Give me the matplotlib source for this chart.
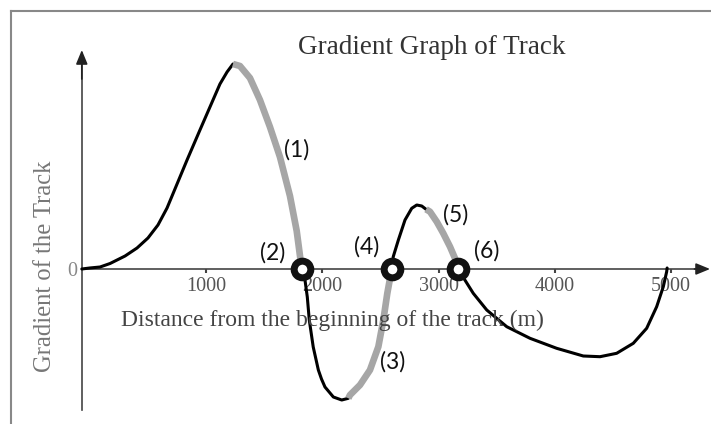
import matplotlib
matplotlib.use("Agg")
import matplotlib.pyplot as plt
from matplotlib.lines import Line2D

plt.rcParams['font.family'] = ['Liberation Serif', 'DejaVu Serif']

# ---- data (distance in m, gradient in arbitrary units) ----
x_rise = [-68, 0, 89, 175, 304, 407, 501, 587, 665, 751, 837, 948, 1034, 1120, 1181, 1232]
g_rise = [0, 0.1, 0.2, 0.55, 1.3, 2.1, 3.1, 4.4, 6.1, 8.5, 10.9, 13.9, 16.2, 18.5, 19.7, 20.5]

x_seg1 = [1232, 1292, 1378, 1464, 1550, 1636, 1722, 1780, 1823]
g_seg1 = [20.5, 20.3, 19.1, 16.9, 14.2, 11.2, 7.3, 3.8, 0]

x_dip = [1823, 1851, 1871, 1888, 1922, 1966, 1993, 2023, 2095, 2167, 2224]
g_dip = [0, -1.1, -2.8, -5.1, -7.8, -10.1, -11.0, -11.8, -12.8, -13.1, -12.93]

x_seg3 = [2224, 2238, 2324, 2410, 2482, 2525, 2559, 2597]
g_seg3 = [-12.93, -12.6, -11.6, -10.1, -7.77, -5.1, -2.43, 0]

x_hump = [2597, 2610, 2654, 2711, 2769, 2812, 2855, 2892]
g_hump = [0, 1.23, 2.9, 4.9, 6.07, 6.4, 6.3, 5.97]

x_seg5 = [2892, 2926, 2984, 3040, 3098, 3141, 3167]
g_seg5 = [5.97, 5.73, 4.73, 3.57, 2.23, 1.07, 0]

x_tail = [3167, 3199, 3298, 3414, 3586, 3786, 4015, 4244, 4388, 4531, 4674, 4789, 4875, 4932, 4961, 4965]
g_tail = [0, -0.6, -2.43, -4.1, -5.77, -6.93, -7.93, -8.7, -8.77, -8.43, -7.43, -5.93, -3.77, -1.77, -0.27, 0.1]

circle_x = [1823, 2597, 3167]
circle_y = [0, 0, 0]

label_texts = ['(1)', '(2)', '(3)', '(4)', '(5)', '(6)']
label_x = [1775, 1576, 2608, 2384, 3150, 3416]
label_y = [11.9, 1.6, -9.3, 2.2, 5.4, 1.8]

xticks = [1000, 2000, 3000, 4000, 5000]
xtick_labels = ['1000', '2000', '3000', '4000', '5000']

# ---- figure ----
fig = plt.figure(figsize=(7.11, 4.24), dpi=100)
fig.patch.set_facecolor('white')
ax = fig.add_axes([0, 0, 1, 1])
ax.set_xlim(-771.3, 5342.2)
ax.set_ylim(-15.5, 26.9)
ax.patch.set_alpha(0)

axis_col = '#444444'
y_axis_x = -68
ax.spines['top'].set_visible(False)
ax.spines['right'].set_visible(False)
ax.spines['bottom'].set_position(('data', 0))
ax.spines['bottom'].set_bounds(y_axis_x, 5300)
ax.spines['bottom'].set_color(axis_col)
ax.spines['bottom'].set_linewidth(1.2)
ax.spines['left'].set_position(('data', y_axis_x))
ax.spines['left'].set_bounds(-14.1, 21.0)
ax.spines['left'].set_color(axis_col)
ax.spines['left'].set_linewidth(1.2)

arrow_kw = dict(arrowstyle='-|>,head_length=0.85,head_width=0.35', color='#222222',
                lw=1.2, shrinkA=0, shrinkB=0, mutation_scale=10)
ax.annotate('', xy=(5334, 0), xytext=(5200, 0), arrowprops=arrow_kw)
ax.annotate('', xy=(y_axis_x, 21.9), xytext=(y_axis_x, 19.0), arrowprops=arrow_kw)

ax.set_xticks(xticks)
ax.set_xticklabels(xtick_labels)
ax.tick_params(axis='x', direction='out', length=3, width=1.5, color=axis_col,
               pad=3, labelsize=14.5, labelcolor='#555555')
ax.set_yticks([0])
ax.set_yticklabels(['0'])
ax.tick_params(axis='y', length=0, pad=3.4, labelsize=14.5, labelcolor='#888888')

# curve
gray = '#a6a6a6'
black_kw = dict(color='black', lw=2.2, solid_capstyle='round', solid_joinstyle='round', zorder=3)
gray_kw = dict(color=gray, lw=4.8, solid_capstyle='butt', solid_joinstyle='round', zorder=3)
ax.plot(x_rise, g_rise, **black_kw)
ax.plot(x_seg1, g_seg1, **gray_kw)
ax.plot(x_dip, g_dip, **black_kw)
ax.plot(x_seg3, g_seg3, **gray_kw)
ax.plot(x_hump, g_hump, **black_kw)
ax.plot(x_seg5, g_seg5, **gray_kw)
ax.plot(x_tail, g_tail, **black_kw)

ax.plot(circle_x, circle_y, 'o', ms=12, mew=5, mec='#111111', mfc='white', zorder=5, ls='none')

for t, x, y in zip(label_texts, label_x, label_y):
    ax.text(x, y, t, ha='center', va='center', fontsize=16.5, family=['Lato', 'DejaVu Sans'],
            color='#111111', zorder=6)

# texts
fig.text(432 / 711, 1 - 48 / 424, 'Gradient Graph of Track', ha='center', va='center',
         fontsize=19.5, color='#333333')
fig.text(332 / 711, 1 - 320 / 424, 'Distance from the beginning of the track (m)', ha='center',
         va='center', fontsize=17, color='#444444')
fig.text(45 / 711, 1 - 266 / 424, 'Gradient of the Track', ha='center', va='center',
         rotation=90, fontsize=17.7, color='#777777')

# frame (top and left edges)
fig.add_artist(Line2D([10.5 / 711, 1.0], [1 - 10.5 / 424, 1 - 10.5 / 424], color='#888888', lw=1.5,
                      transform=fig.transFigure))
fig.add_artist(Line2D([10.5 / 711, 10.5 / 711], [0, 1 - 10.5 / 424], color='#888888', lw=1.5,
                      transform=fig.transFigure))

fig.savefig('out.png', dpi=100)
